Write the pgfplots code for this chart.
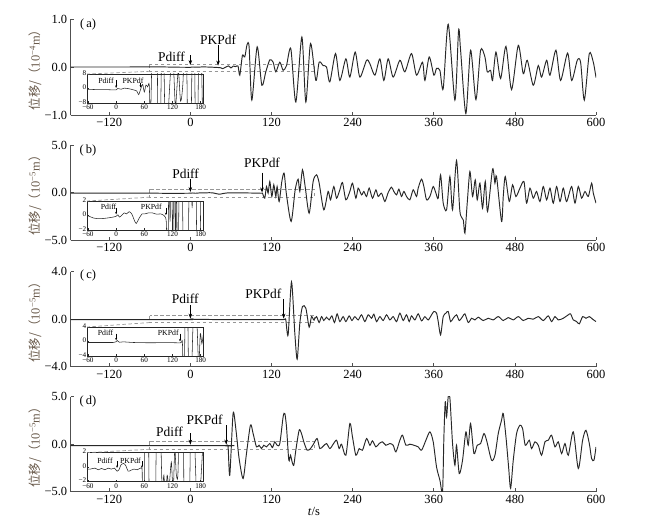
\documentclass[border=0pt]{standalone}
\usepackage{pgfplots}
\pgfplotsset{compat=1.18}
\usepackage{pgfplotstable}
\usepackage{fontspec}
\setmainfont{Liberation Serif}
\newfontfamily\cjk{Noto Sans CJK SC}
\usetikzlibrary{arrows.meta}
\definecolor{axcol}{RGB}{80,80,80}
\definecolor{trc}{RGB}{40,40,40}
\definecolor{dcol}{RGB}{150,150,150}
\definecolor{labcol}{RGB}{105,90,75}

\pgfplotstableread{
t v
-177 0
-100 0
-50 0.003
-20 -0.004
0 -0.006
3.5 0
10.6 -0.004
17.7 0.002
24.7 0
31.8 -0.004
38.8 -0.009
43.8 -0.013
48 -0.034
52.2 -0.004
56.5 0.023
60 -0.019
63.5 0.019
67.1 0.009
70.5 0.02
73.1 -0.17
77.0 0.24
80.5 0.21
83.9 0.47
86.9 0.42
90.9 -0.69
98.8 0.42
105.7 -0.38
111.6 -0.10
117.5 0.15
122.4 0.10
126.4 -0.10
132.3 0.10
137.2 -0.07
142.2 0.03
148.6 0.38
156.0 -0.73
164.9 0.625
170.8 -0.73
177.7 0.49
185.6 -0.28
190.5 0.10
196.4 0.03
201.4 0
206.3 -0.31
214.7 0.28
221.1 -0.28
230.0 0.17
235.9 -0.21
243.8 0.31
250.7 -0.21
260.6 0.14
265.5 0.07
272.9 -0.17
280.3 0.17
286.2 -0.28
292.6 0.17
300.0 -0.21
309.9 0.14
317.3 -0.10
327.1 0.28
334.5 -0.17
343.4 0.10
346.9 -0.28
353.3 0.21
360.2 -0.17
364.1 -0.03
369.1 -0.07
374.0 -0.45
381.4 0.89
391.3 -0.69
396.7 0.76
399.7 0.35
407.5 -0.97
414.5 0.35
422.4 -0.68
429.3 0.35
435.7 0.21
439.1 -0.10
444.1 -0.07
447.0 -0.28
452.0 0.31
458.9 -0.24
466.8 0.43
475.1 -0.47
485.0 0.45
492.4 -0.14
498.3 0.14
507.2 -0.38
514.6 0.03
519.5 -0.21
527.0 0.14
531.9 -0.17
540.7 0.35
547.6 -0.28
558.0 0.29
564.0 -0.28
572.3 0.14
577.2 0.10
582.7 -0.69
590.1 0.28
596.0 0.10
600 -0.22
}\tA

\pgfplotstableread{
t v
-62 -0.4
-42.4 -0.6
-24.7 -0.6
-7 -0.75
0 -0.75
3.5 0
10.6 -0.4
17.7 0.2
24.7 0
31.8 -0.4
38.8 -0.9
43.8 -1.3
48.0 -3.4
52.2 -0.4
56.5 2.3
60.0 -1.9
63.5 1.9
67.1 0.9
70.5 2
73.1 -17
77.0 24
80.5 21
83.9 47
86.9 42
90.9 -69
98.8 42
105.7 -38
111.6 -10
117.5 15
122.4 10
126.4 -10
132.3 10
137.2 -7
142.2 3
148.6 38
156.0 -73
164.9 62
170.8 -73
177.7 49
185.6 -28
190.5 10
}\iA

\pgfplotstableread{
t v
-177 -0.07
-60 -0.07
-33.9 -0.09
-6.5 -0.08
0.4 -0.07
3.8 -0.05
7.2 -0.08
12.7 -0.05
17.5 -0.03
22.3 -0.04
27.8 -0.02
33.3 -0.04
38.8 -0.13
42.9 -0.18
48.4 -0.11
55.2 -0.04
69.0 -0.03
86.1 -0.05
101.9 -0.07
104.6 -0.08
106.6 -0.07
107.6 -0.25
110.1 -0.60
112.6 0.63
115.0 -0.07
117.5 1.16
120.5 -0.42
123.4 0.81
126.4 -0.42
128.3 0.63
131.3 -0.95
135.3 1.16
138.7 2.04
142.2 -0.25
149.1 -3.05
155.0 0.28
159.4 1.40
161.9 0.11
165.8 2.39
169.8 0.63
175.7 -2.18
181.6 1.16
186.6 1.86
190.5 1.0
197.4 -1.82
203.8 0.11
207.3 -0.77
212.2 0.63
216.2 -0.60
221.1 0.28
225.0 1.05
230.0 -0.77
235.9 0.11
239.8 0.98
244.8 -0.60
248.2 0.46
253.2 -0.25
256.6 0.11
260.6 -0.42
264.5 0.46
269.4 -0.60
274.4 0.28
277.8 -0.42
282.8 -0.07
287.7 -0.95
292.6 0
297.5 0.56
301.0 0.11
305.0 -0.25
308.4 0.35
312.3 -0.42
315.8 0.11
319.7 -0.42
324.7 -0.77
329.6 0.28
334.5 -0.42
337.0 0.46
341.9 1.40
345.4 0.63
349.3 -0.77
354.3 -0.42
359.2 0.63
363.2 -0.07
366.6 -0.60
370.1 1.86
374.0 -1.12
379.0 -1.82
383.9 1.68
387.8 -1.82
393.7 3.37
398.7 -2.00
403.6 -2.88
406.1 -4.28
409.5 -1.12
413.5 2.21
417.4 -0.42
421.4 1.33
424.3 -0.77
428.3 0.98
432.2 -1.65
436.2 1.16
439.6 -2.00
447.0 2.46
450.5 0.98
452.9 1.68
460.3 -3.05
462.8 -0.42
465.8 1.68
471.7 -0.95
476.6 0.81
481.5 -0.42
487.5 0.46
493.4 1.16
497.3 -1.12
502.3 0.46
507.2 -0.60
512.1 0.11
517.1 -0.95
522.0 0.63
527.0 -0.77
531.9 0.46
536.8 -1.12
541.7 0.63
546.7 -0.95
551.6 0.46
556.5 -0.95
563.9 0.63
568.9 -1.12
573.8 0.63
578.7 -0.60
583.7 0.11
588.6 -0.42
593.5 0.98
596.0 -0.07
600 -1.12
}\tB

\pgfplotstableread{
t v
-62 -0.09
-57.9 -0.09
-47.7 -0.36
-33.9 -0.44
-20.2 -0.36
-6.5 -0.22
0.4 -0.09
3.8 0.09
7.2 -0.22
12.7 0.09
17.5 0.36
22.3 0.22
27.8 0.53
33.3 0.22
38.8 -0.67
42.9 -1.1
48.4 -0.44
55.2 0.22
60.7 0.22
69.0 0.36
77.2 0.36
86.1 0.18
95.0 0.22
101.9 0
104.6 -0.22
106.6 -0.7
107.6 -2.5
110.1 -6.0
112.6 6.3
115.0 -0.7
117.5 11.6
120.5 -4.2
123.4 8.1
126.4 -4.2
128.3 6.3
131.3 -9.5
135.3 11.6
138.7 20.4
142.2 -2.5
149.1 -30.5
155.0 2.8
159.4 14.0
161.9 1.1
165.8 23.9
169.8 6.3
175.7 -21.8
181.6 11.6
186.6 18.6
190.5 10
}\iB

\pgfplotstableread{
t v
-177 -0.03
-6.3 -0.03
-0.6 -0.01
2.3 0.03
6.6 -0.02
15.2 -0.01
36.7 -0.03
72.5 -0.035
108.3 -0.03
136.9 -0.035
139.7 0
141.2 -0.06
144.6 -1.32
149.6 3.15
154.5 -1.18
158.0 -3.37
161.9 -0.34
165.8 1.07
170.8 0.93
175.7 -0.67
179.2 0.22
182.6 -0.06
186.6 0.22
190.5 -0.28
194.0 0.22
197.4 -0.11
201.4 0.17
205.3 -0.06
209.3 0.28
213.2 -0.28
217.1 0.45
221.1 -0.20
226.0 0.22
230.0 -0.20
234.9 0.28
238.9 -0.11
243.3 0.22
248.2 -0.06
253.2 0.37
258.1 -0.20
263.0 0.37
268.0 0.08
271.4 0.42
275.4 -0.20
280.3 0.22
285.2 -0.11
290.2 0.37
295.1 -0.06
300.0 0.22
305.0 -0.20
309.9 0.51
314.8 -0.11
319.7 0.37
323.7 -0.20
327.1 0.28
332.1 -0.06
337.0 0.45
342.0 -0.14
346.9 0.22
351.8 -0.06
356.8 0.37
360.2 0.65
364.1 0.51
366.6 -0.20
370.1 -1.32
374.0 0.22
378.0 0.51
381.4 0.65
384.9 -0.20
388.8 0.08
393.7 0.37
397.7 -0.11
402.6 0.22
406.1 0.45
411.0 -0.28
416.0 0.08
420.9 -0.06
425.8 0.17
433.2 -0.11
440.6 0.08
448.0 -0.06
455.4 0.22
462.8 -0.11
470.2 0.14
477.6 -0.06
485.0 0.22
492.4 -0.11
499.8 0.08
507.2 0
514.6 0.22
522.0 -0.11
529.4 0.28
534.3 -0.20
539.3 0.22
544.2 -0.06
551.6 0.08
559.0 0.37
562.4 0.45
566.4 -0.06
571.3 -0.20
575.3 -0.39
580.2 0.22
585.1 0.08
590.1 0.22
595.0 0
600 -0.20
}\tC

\pgfplotstableread{
t v
-62 -0.27
-35 -0.27
-6.3 -0.27
-0.6 -0.1
2.3 0.27
6.6 -0.2
15.2 -0.1
36.7 -0.27
72.5 -0.35
108.3 -0.3
136.9 -0.35
139.7 0
141.2 -0.6
144.6 -13.2
149.6 31.5
154.5 -11.8
158.0 -33.7
161.9 -3.4
165.8 10.7
170.8 9.3
175.7 -6.7
179.2 2.2
182.6 -0.6
186.6 2.2
190.5 -2.8
}\iC

\pgfplotstableread{
t v
-177 -0.15
52 -0.15
53.4 -0.18
55.8 -0.28
58.3 -3.26
63.2 3.23
67.2 1.65
72.1 -1.51
78.0 -3.61
83.0 -0.98
88.9 2.02
92.8 1.12
97.8 -0.28
101.7 -0.11
105.2 -0.46
108.6 -0.11
112.6 -0.28
117.5 0.07
121.4 -0.35
124.9 0.25
128.3 -0.11
132.3 0.07
137.2 2.88
139.7 3.23
142.2 1.82
145.6 -1.68
148.1 -1.16
150.5 -1.86
153.0 -2.21
156.0 -0.63
160.9 1.47
164.4 1.12
167.8 0.25
172.7 -0.63
177.7 -0.46
182.6 0.07
187.5 0.60
191.5 -0.46
196.4 -0.21
201.4 0.07
206.3 -0.46
211.2 0
216.2 0.42
220.1 -0.46
223.6 0
230.0 -1.16
235.9 2.18
239.8 0.77
244.8 -1.16
249.7 -0.46
254.6 -0.63
260.6 0.60
265.5 -0.11
269.4 0.35
274.4 -0.28
279.3 0.07
284.2 0.25
289.2 -0.11
295.1 0.07
300.0 -0.11
304.0 -0.81
309.9 0.42
313.8 0.95
318.8 -0.11
324.7 0
330.6 -0.11
337.0 -0.28
342.0 -0.63
348.4 0.42
354.3 1.30
359.2 0.25
364.1 -2.39
369.1 -3.79
373.0 -5.0
375.0 0.77
377.0 4.46
379.0 2.88
381.4 5.0
383.9 4.84
387.8 0.07
391.3 -2.21
393.7 -0.11
397.7 -3.09
402.6 -1.68
407.5 1.30
411.0 -0.11
414.5 2.18
419.4 -0.98
424.3 -0.11
429.3 0.07
434.2 1.12
438.1 0.42
445.5 -1.68
450.5 -1.16
455.4 1.12
460.3 2.53
462.8 3.23
466.8 0.77
470.7 -2.39
473.7 -4.65
477.6 -1.68
482.5 1.12
487.5 2.0
491.4 1.65
495.4 -0.11
501.3 0.42
504.7 -0.46
509.7 0.25
514.6 -0.11
519.5 -1.16
524.5 0.25
529.4 0.42
534.3 0.95
539.3 -0.28
544.2 0.25
549.1 -0.98
554.1 0.07
559.0 -1.16
566.4 1.30
573.8 -2.56
580.2 0.42
585.1 1.47
590.1 0.07
593.5 -1.51
597.0 -1.68
600 -0.28
}\tD

\pgfplotstableread{
t v
-62 -0.26
-55 -0.26
-45 -0.13
-38 -0.35
-31 -0.17
-24 -0.35
-17 -0.13
-10 -0.26
-3.4 -0.13
2 -0.55
7 -0.26
10 0.3
16 0.52
21 0.17
25.5 -0.55
31 -0.43
38 -0.26
45 -0.35
52 -0.13
55 -0.26
55.8 -2.8
58.3 -32.6
63.2 32.3
67.2 16.5
72.1 -15.1
78.0 -36.1
83.0 -9.8
88.9 20.2
92.8 11.2
97.8 -2.8
101.7 -1.1
105.2 -4.6
108.6 -1.1
112.6 -2.8
117.5 0.7
121.4 -3.5
124.9 2.5
128.3 -1.1
132.3 0.7
137.2 28.8
139.7 32.3
142.2 18.2
145.6 -16.8
148.1 -11.6
150.5 -18.6
153.0 -22.1
156.0 -6.3
160.9 14.7
164.4 11.2
167.8 2.5
172.7 -6.3
177.7 -4.6
182.6 0.7
187.5 6.0
191.5 -4.6
}\iD

\pgfplotsset{
  mainax/.style={
    width=525.3bp, scale only axis, xmin=-177, xmax=600,
    axis x line=bottom, axis y line=left,
    axis line style={draw=axcol, line width=0.8bp, -},
    every tick/.style={draw=axcol, line width=0.6bp},
    tick align=inside, major tick length=3.5bp,
    xtick={-120,0,120,240,360,480,600},
    xticklabels={−120,0,120,240,360,480,600},
    tick label style={font=\fontsize{12.5}{13}\selectfont, text=black},
    clip mode=individual,
    ylabel style={at={(axis description cs:-0.067,0.5)}, anchor=center,
      text=labcol, font=\fontsize{12.5}{13}\selectfont},
  },
  inax/.style={
    width=116.5bp, height=29bp, scale only axis, xmin=-62, xmax=186,
    axis background/.style={fill=white},
    axis line style={draw=black!85, line width=0.6bp},
    every tick/.style={draw=black!85, line width=0.5bp},
    tick align=inside, major tick length=2bp,
    xtick pos=bottom, ytick pos=left,
    xtick={-60,0,60,120,180}, xticklabels={−60,0,60,120,180},
    tick label style={font=\fontsize{7.2}{8}\selectfont},
    xticklabel style={inner sep=0.3bp, yshift=-1.6bp},
    yticklabel style={inner sep=0.6bp, yshift=1.2bp},
    clip mode=individual,
  },
  trace/.style={draw=trc, line width=0.95bp, smooth, tension=0.45, mark=none},
  itrace/.style={draw=trc, line width=0.55bp, smooth, tension=0.45, mark=none},
}
\tikzset{
  dbox/.style={draw=dcol, dash pattern=on 3.5bp off 2.5bp, line width=0.7bp},
  arr/.style={-{Stealth[length=5bp,width=3.5bp]}, line width=0.6bp, black},
  iarr/.style={-{Stealth[length=2.5bp,width=2bp]}, line width=0.4bp, black},
  ann/.style={font=\fontsize{13.5}{14}\selectfont, inner sep=0pt},
  iann/.style={font=\fontsize{7.8}{8}\selectfont, inner sep=0pt},
  plab/.style={font=\fontsize{12.5}{13}\selectfont, inner sep=0pt},
}

\begin{document}
\begin{tikzpicture}
\useasboundingbox (0bp,0bp) rectangle (645bp,-525bp);

% ---------------- (a)
\begin{axis}[mainax, name=mA, at={(70.7bp,-115bp)}, anchor=south west, height=96bp,
  ymin=-1, ymax=1, ytick={-1,0,1}, yticklabels={−1.0,0.0,1.0},
  ylabel={{\cjk 位移/（}10\textsuperscript{−4}m{\cjk ）}}]
\draw[dbox] (axis cs:-60,0.06) rectangle (axis cs:184,-0.09);
\coordinate (bA) at (axis cs:-60,-0.09);
\addplot[trace] table {\tA};
\draw[arr] (axis cs:0,0.25) -- (axis cs:0,0.04);
\node[ann] at (axis cs:-28,0.22) {Pdiff};
\draw[arr] (axis cs:41,0.45) -- (axis cs:41,0.03);
\node[ann] at (axis cs:41,0.56) {PKPdf};
\node[plab] at (axis description cs:0.033,0.94) {(\,a)};
\end{axis}
\begin{axis}[inax, name=iA, at={(87bp,-103bp)}, anchor=south west,
  ymin=-8, ymax=8, ytick={-8,0,8}, yticklabels={−8,0,8}]
\addplot[itrace] table {\iA};
\node[iann] at (axis cs:-21.6,4.3) {Pdiff};
\draw[iarr] (axis cs:0,4.5) -- (axis cs:0,0.3);
\node[iann] at (axis cs:36,4.3) {PKPdf};
\draw[iarr] (axis cs:52,3.0) -- (axis cs:52,0.5);
\end{axis}
\draw[dbox] (bA) -- (iA.north west);

% ---------------- (b)
\begin{axis}[mainax, name=mB, at={(70.7bp,-240bp)}, anchor=south west, height=95bp,
  ymin=-5, ymax=5, ytick={-5,0,5}, yticklabels={−5.0,0.0,5.0},
  ylabel={{\cjk 位移/（}10\textsuperscript{−5}m{\cjk ）}}]
\draw[dbox] (axis cs:-60,0.35) rectangle (axis cs:184,-0.49);
\coordinate (bB) at (axis cs:-60,-0.49);
\addplot[trace] table {\tB};
\draw[arr] (axis cs:0,1.4) -- (axis cs:0,0.05);
\node[ann] at (axis cs:-7,1.97) {Pdiff};
\draw[arr] (axis cs:106,2.1) -- (axis cs:106,0.0);
\node[ann] at (axis cs:106,3.13) {PKPdf};
\node[plab] at (axis description cs:0.033,0.947) {(\,b)};
\end{axis}
\begin{axis}[inax, name=iB, at={(87bp,-230bp)}, anchor=south west,
  ymin=-2, ymax=2, ytick={-2,0,2}, yticklabels={−2,0,2}]
\addplot[itrace] table {\iB};
\node[iann] at (axis cs:-16,1.2) {Pdiff};
\draw[iarr] (axis cs:0,1.1) -- (axis cs:0,0.15);
\node[iann] at (axis cs:75,1.2) {PKPdf};
\draw[iarr] (axis cs:106,1.1) -- (axis cs:106,0.05);
\end{axis}
\draw[dbox] (bB) -- (iB.north west);

% ---------------- (c)
\begin{axis}[mainax, name=mC, at={(70.7bp,-366.7bp)}, anchor=south west, height=95bp,
  ymin=-4, ymax=4, ytick={-4,0,4}, yticklabels={−4.0,0.0,4.0},
  ylabel={{\cjk 位移/（}10\textsuperscript{−5}m{\cjk ）}}]
\draw[dbox] (axis cs:-60,0.31) rectangle (axis cs:184,-0.28);
\coordinate (bC) at (axis cs:-60,-0.28);
\addplot[trace] table {\tC};
\draw[arr] (axis cs:0,1.21) -- (axis cs:0,0.05);
\node[ann] at (axis cs:-7.5,1.71) {Pdiff};
\draw[arr] (axis cs:138,1.71) -- (axis cs:138,0.05);
\node[ann] at (axis cs:108,2.13) {PKPdf};
\node[plab] at (axis description cs:0.033,0.965) {(\,c)};
\end{axis}
\begin{axis}[inax, name=iC, at={(87bp,-356bp)}, anchor=south west,
  ymin=-4, ymax=4, ytick={-4,0,4}, yticklabels={−4,0,4}]
\addplot[itrace] table {\iC};
\node[iann] at (axis cs:-22.6,2.4) {Pdiff};
\draw[iarr] (axis cs:0,2.2) -- (axis cs:0,0.3);
\node[iann] at (axis cs:111,2.4) {PKPdf};
\draw[iarr] (axis cs:136,2.2) -- (axis cs:136,0.0);
\end{axis}
\draw[dbox] (bC) -- (iC.north west);

% ---------------- (d)
\begin{axis}[mainax, name=mD, at={(70.7bp,-491.7bp)}, anchor=south west, height=95bp,
  ymin=-5, ymax=5, ytick={-5,0,5}, yticklabels={−5.0,0.0,5.0},
  ylabel={{\cjk 位移/（}10\textsuperscript{−5}m{\cjk ）}}]
\draw[dbox] (axis cs:-60,0.32) rectangle (axis cs:184,-0.53);
\coordinate (bD) at (axis cs:-60,-0.53);
\addplot[trace] table {\tD};
\draw[arr] (axis cs:0,1.16) -- (axis cs:0,-0.05);
\node[ann] at (axis cs:-31,1.26) {Pdiff};
\draw[arr] (axis cs:53,2.0) -- (axis cs:53,-0.05);
\node[ann] at (axis cs:21,2.53) {PKPdf};
\node[plab] at (axis description cs:0.033,0.947) {(\,d)};
\end{axis}
\begin{axis}[inax, name=iD, at={(87bp,-481.7bp)}, anchor=south west,
  ymin=-2, ymax=2, ytick={-2,0,2}, yticklabels={−2,0,2}]
\addplot[itrace] table {\iD};
\node[iann] at (axis cs:-23.7,0.83) {Pdiff};
\draw[iarr] (axis cs:2,0.85) -- (axis cs:2,-0.1);
\node[iann] at (axis cs:30.5,0.9) {PKPdf};
\draw[iarr] (axis cs:55,0.85) -- (axis cs:55,-0.1);
\end{axis}
\draw[dbox] (bD) -- (iD.north west);

\node[font=\fontsize{12.5}{13}\selectfont] at (314bp,-511bp) {\textit{t}/s};
\end{tikzpicture}
\end{document}
